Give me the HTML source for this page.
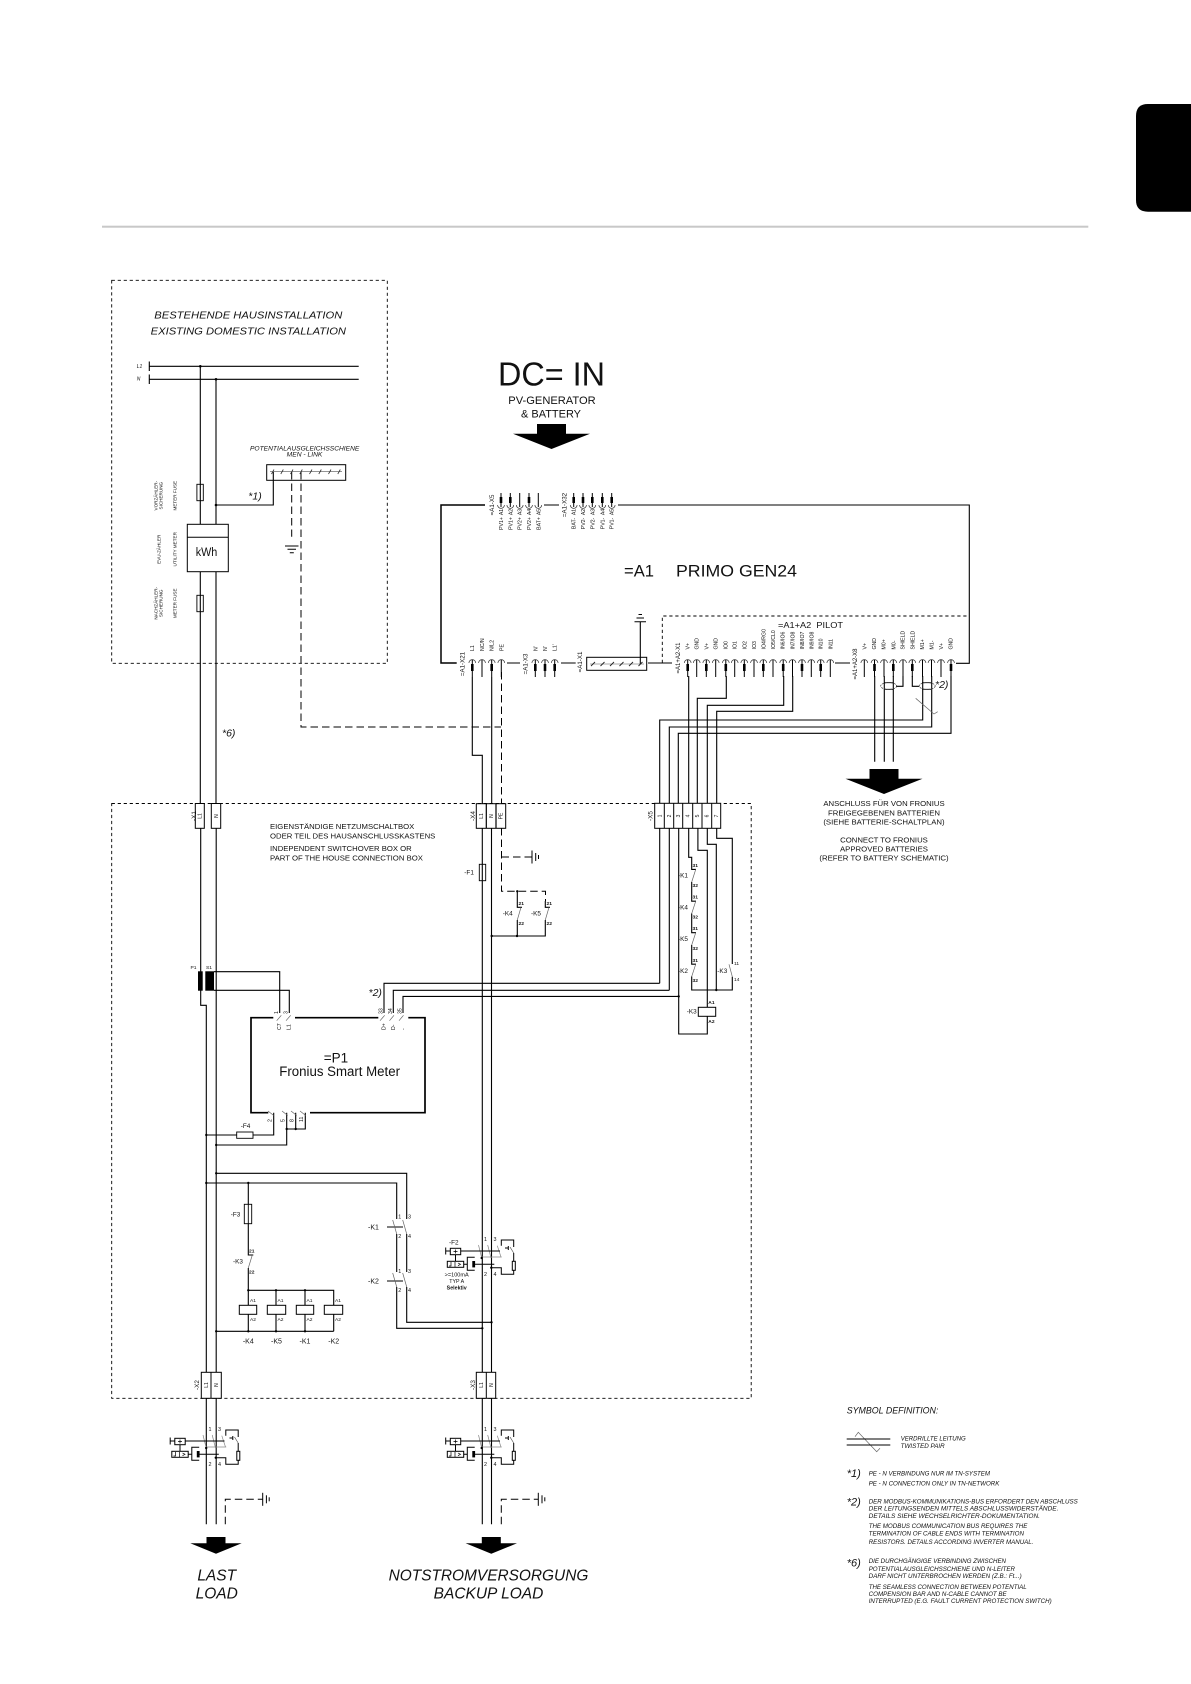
<!DOCTYPE html>
<html><head><meta charset="utf-8"><title>PRIMO GEN24 schematic</title>
<style>
html,body{margin:0;padding:0;background:#fff}
svg{display:block}
text{font-family:"Liberation Sans",sans-serif;fill:#111}
.i{font-style:italic}
</style></head><body>
<svg width="1191" height="1684" viewBox="0 0 1191 1684" xmlns="http://www.w3.org/2000/svg">
<defs>
<g id="pb"><path d="M-3.4 0A3.4 3.4 0 0 1 3.4 0" fill="none" stroke="#333" stroke-width=".7"/><path d="M0-3V14" stroke="#000" stroke-width="1"/></g>
<g id="pbt"><path d="M-3.4 0A3.4 3.4 0 0 1 3.4 0" fill="none" stroke="#333" stroke-width=".7"/><path d="M0-3V14" stroke="#000" stroke-width="1"/><path d="M0 1V8" stroke="#000" stroke-width="2.6"/></g>
<g id="pt"><path d="M-3.4 0A3.4 3.4 0 0 0 3.4 0" fill="none" stroke="#333" stroke-width=".7"/><path d="M0 2V-12" stroke="#000" stroke-width="1"/></g>
<g id="ptt"><path d="M-3.4 0A3.4 3.4 0 0 0 3.4 0" fill="none" stroke="#333" stroke-width=".7"/><path d="M0 2V-12" stroke="#000" stroke-width="1"/><path d="M0-2V-8" stroke="#000" stroke-width="2.6"/></g>
<g id="rcd" fill="none">
<path d="M478.5 1245L481.7 1258M487.7 1245L491 1258M497.3 1245.7L501 1257M481 1257H501.7" stroke="#888" stroke-width=".7"/>
<path d="M445.7 1247.5V1254.5M445.7 1251H450.3M460.7 1251H500M455.5 1254.7V1261.3M463.7 1264.3H467.3M474.7 1264.3H494.3M501.3 1245.7V1240H513.7V1247M508.3 1248H505M508.3 1246V1250M513.7 1253V1261.3M513.7 1270.3V1274.3H501.3V1267.7H491.5" stroke="#000" stroke-width="1"/>
<path d="M510 1247L513.7 1253" stroke="#555" stroke-width=".7"/>
<rect x="450.3" y="1248.3" width="10.4" height="6.4" stroke="#000" stroke-width="1"/>
<path d="M455.5 1249.5V1253.5M453.5 1251.5H457.5" stroke="#000" stroke-width=".7"/>
<rect x="447.3" y="1261.3" width="16.4" height="6" stroke="#000" stroke-width="1"/>
<path d="M451 1262V1266H449M455 1262V1267M458 1263L460.5 1264.3L458 1265.7" stroke="#000" stroke-width=".7"/>
<path d="M474.7 1257.3H467.3V1270.3H474.7" stroke="#000" stroke-width="1"/>
<rect x="472.3" y="1261" width="2.8" height="6.4" fill="#000"/>
<rect x="512.3" y="1261.3" width="3" height="9" stroke="#000" stroke-width="1" fill="#fff"/>
<circle cx="481.7" cy="1258" r="1.2" fill="#000"/><circle cx="491.3" cy="1267.7" r="1.2" fill="#000"/>
</g>
<path id="arrow" d="M-14.5 0H14.5V9.7H38.5L0 25L-38.5 9.7H-14.5Z" fill="#000"/>
<path id="arrow2" d="M-9.5 0H9.5V6.3H25.7L0 16.7L-25.7 6.3H-9.5Z" fill="#000"/>
<g id="gnd" stroke="#000" stroke-width="1"><path d="M0-6.5V6.5"/><path d="M3.7-4V4"/><path d="M6.5-2V2"/></g>
</defs>

<!-- page furniture -->
<rect x="102" y="225.7" width="986.3" height="2" fill="#c8c8c8"/>
<path d="M1191 104H1148Q1136 104 1136 116V200Q1136 211.7 1148 211.7H1191Z" fill="#000"/>

<!-- dashed areas -->
<g fill="none" stroke="#000" stroke-width=".9" stroke-dasharray="3.2 2.8">
<rect x="111.7" y="280.3" width="275.6" height="383"/>
<rect x="111.7" y="803.5" width="639.5" height="594.8"/>
<path d="M662.3 663V616H969.3"/>
</g>

<!-- wires -->
<g fill="none" stroke="#000" stroke-width="1.1">
<path d="M149.3 366.3H358.7M149.3 379.3H358.7"/>
<path d="M149.3 361.5V371M149.3 374.5V384"/>
<path d="M200.3 366V524.3M200.3 571.7V803.5M216 379V524.3M216 571.7V803.5"/>
<path d="M216 505H273.3V472"/>
<path d="M200.7 828V1005.3H206.3V1372.5M206.3 1398V1524.3M216.2 828V1372.5M216.2 1398V1524.3"/>
<path d="M472.3 677V755.3H482.3V803.5M491.7 677V803.5M482.3 828V1372.5M482.3 1398V1524.3M491.5 828V1372.5M491.5 1398V1524.3"/>
<path d="M214 971.7H279.7V1013M214 990.3H289.3V1013"/>
<path d="M384 1013V983.3H659.7M393.3 1013V990.3H669.3M403 1013V996.4H678.7"/>
<path d="M659.7 828V983.3M669.3 828V990.3M678.7 828V1034H707.3V1016.3"/>
<path d="M688.7 676V803.5M726.3 676V698.3H697.3V803.5M783.7 676V705.3H707.3V803.5M792.7 676V711.3H716.7V803.5"/>
<path d="M922.7 676V720H659.7V803.5M931.7 676V727H669.3V803.5M951 676V733.3H678.3V803.5"/>
<path d="M874.7 676V761.7M884.3 676V761.7M893.3 676V761.7"/>
<path d="M903 676V686.3H896M912.3 676V686.3H919.3"/>
<path d="M688.7 828V857.3H691.7V869.4H696M691.7 882V901.2H696M691.7 913.5V932.7H696M691.7 945V964.2H696M691.7 976.5V990H732.3V976.7M697.9 828V850.3H707.3V1007.3M707.3 828V844.3H716.3V990M716.7 828V838.3H732.3V964"/>
<path d="M517.3 891.3V907.3H522M545.3 901V907.3H550M517.3 920V936M545.3 920V936H491.7"/>
<path d="M273.7 1112.7V1135H206.3M286.7 1112.7V1145H216.2M295.7 1112.7V1129M305.3 1112.7V1129H286.7"/>
<path d="M216.2 1173.3H406.7V1219M406.7 1234V1272M406.7 1287V1322.3H491.5M206.3 1183H396.7V1219M396.7 1234V1272M396.7 1287V1328.3H482.3"/>
<path d="M387 1227H403M387 1281H403"/>
<path d="M248.3 1183V1255H253.3M248.3 1268V1305.3M248.3 1314.3V1331.3M276 1290.3V1305.3M276 1314.3V1331.3M305 1290.3V1305.3M305 1314.3V1331.3M333.7 1314.3V1331.3M248.3 1290.3H333.7V1305.3M216.2 1331.3H333.7"/>
<path d="M640.3 664V621.7"/>
</g>
<!-- thin contact diagonals -->
<g fill="none" stroke="#666" stroke-width=".7">
<path d="M695.7 869.5L691.7 882M695.7 901.3L691.7 913.5M695.7 932.8L691.7 945M695.7 964.3L691.7 976.5M729 964.3L732.3 976.7"/>
<path d="M521 907.3L517.3 920M549 907.3L545.3 920M252.3 1255L248.3 1268"/>
<path d="M392.7 1220L396.7 1234M402.7 1220L406.7 1234M392.7 1273L396.7 1287M402.7 1273L406.7 1287"/>
<path d="M276.7 1020.7L281.3 1015.3M286 1020.7L290.7 1015.3M380 1020.7L384.7 1015.3M389.5 1020.7L394 1015.3M399 1020.7L403.5 1015.3"/>
<path d="M268 1111L273.7 1115.5M282 1111L287.7 1115.5M291 1111L296.7 1115.5M300 1111L305.7 1115.5"/>
<path d="M915.7 698.3L934 714L937.7 711.7"/>
<path d="M855 1436.7L858.3 1432.3L876.7 1451.7L880 1448.3"/>
</g>
<!-- dashed wires -->
<g fill="none" stroke="#000" stroke-width="1" stroke-dasharray="7.5 4">
<path d="M291.7 472V536.7"/>
<path d="M301 472V727H501"/>
<path d="M501.5 672V803.5"/>
<path d="M501.5 828V891.3H545.5V901"/>
<path d="M501.5 857H532"/>
<path d="M225.3 1524.3V1499.3H262.7"/>
<path d="M501.3 1524.3V1499.3H538.3"/>
</g>
<!-- ground symbols -->
<g stroke="#000" stroke-width="1">
<path d="M285 546H298.5M287.5 549.3H296M289.8 552.7H293.8"/>
<path d="M634.5 621.7H646M636.5 618H644M638.5 614.5H642"/>
</g>
<use href="#gnd" x="532" y="857"/>
<use href="#gnd" x="262.7" y="1499.3"/>
<use href="#gnd" x="538.3" y="1499.3"/>

<!-- main boxes -->
<g fill="none" stroke="#000">
<path d="M485 505H441V663H456.7" stroke-width="1.5"/>
<path d="M544 505H559M618 505H969.3V663.3H956" stroke-width="1.1"/>
<path d="M507 663H520M561 663H575.7M648 663H672M835 663H850" stroke-width="1.1"/>
<path d="M273.3 1017.7H251V1112.7H268.3M310 1112.7H425V1017.7H408.3M378.3 1017.7H295" stroke-width="1.7"/>
<rect x="266.7" y="464.7" width="79" height="15.6" stroke-width="1"/>
<rect x="586.7" y="657.3" width="60" height="13" stroke-width="1"/>
</g>
<path d="M270 471.7H342" stroke="#555" stroke-width=".6"/>
<path d="M271.5 474L274 469.5M280.8 474L283.3 469.5M290.5 474L293 469.5M299.8 474L302.3 469.5M309.5 474L312 469.5M318.8 474L321.3 469.5M328.5 474L331 469.5M337.8 474L340.3 469.5" stroke="#333" stroke-width=".8"/>
<path d="M590 664H644" stroke="#555" stroke-width=".6"/>
<path d="M591 666L595 662M600.5 666L604.5 662M610 666L614 662M619.5 666L623.5 662M629 666L633 662M638.5 666L642.5 662" stroke="#222" stroke-width=".9"/>

<!-- kWh & fuses -->
<g fill="#fff" stroke="#000" stroke-width="1">
<rect x="187.3" y="524.3" width="41" height="47.4"/>
</g>
<path d="M187.3 537.3H228.3" stroke="#000"/>
<g fill="none" stroke="#000" stroke-width=".9">
<rect x="196.9" y="484.3" width="6.4" height="16.4"/>
<rect x="196.9" y="595.3" width="6.4" height="16.4"/>
<rect x="479.3" y="864.3" width="6.4" height="16.4"/>
<rect x="236.7" y="1132" width="16.3" height="6.3" fill="#fff"/>
<rect x="244.3" y="1204.3" width="7.4" height="19.4" fill="#fff"/>
</g>
<path d="M248.3 1204V1224" stroke="#000" stroke-width=".9"/>

<!-- coils -->
<g fill="#fff" stroke="#000" stroke-width="1">
<rect x="698.3" y="1007.3" width="17.4" height="9"/>
<rect x="239.3" y="1305.3" width="17.4" height="9"/>
<rect x="267.3" y="1305.3" width="18.4" height="9"/>
<rect x="296.3" y="1305.3" width="17.4" height="9"/>
<rect x="324.3" y="1305.3" width="18.4" height="9"/>
</g>

<!-- shield ovals -->
<g fill="#fff" stroke="#000" stroke-width=".8">
<path d="M884 682.7H893M884 689.3H893"/>
<path d="M922 682.7H931M922 689.3H931"/>
</g>
<g fill="none" stroke="#333" stroke-width=".7">
<ellipse cx="888.7" cy="686" rx="8" ry="3.4" stroke-dasharray="2 1"/>
<ellipse cx="927.2" cy="686" rx="8" ry="3.4" stroke-dasharray="2 1"/>
</g>

<!-- CT blocks -->
<rect x="198" y="971.3" width="4.7" height="19.4" fill="#000"/>
<rect x="205.3" y="971.3" width="8.7" height="19.4" fill="#000"/>

<!-- terminals -->
<g fill="#fff" stroke="#000" stroke-width="1">
<rect x="195.3" y="803.5" width="9" height="24.8"/>
<rect x="211.3" y="803.5" width="9.4" height="24.8"/>
<rect x="476.3" y="803.7" width="29.4" height="24.6"/>
<rect x="654.7" y="803.3" width="66" height="25"/>
<rect x="201.3" y="1372.3" width="20" height="26"/>
<rect x="476.3" y="1372.3" width="19.4" height="26"/>
</g>
<g stroke="#000" fill="none">
<path d="M486.3 803.7V828.3M496 803.7V828.3" stroke-width="1.2"/>
<path d="M664.3 803.3V828.3M673.7 803.3V828.3M682.7 803.3V828.3M692.7 803.3V828.3M702 803.3V828.3M711.7 803.3V828.3M211 1372.3V1398.3M486.3 1372.3V1398.3"/>
</g>

<!-- RCD symbols -->
<use href="#rcd"/>
<use href="#rcd" y="190"/>
<use href="#rcd" x="-275.5" y="190"/>

<!-- pins top -->
<use href="#ptt" x="501" y="505"/><use href="#ptt" x="510.3" y="505"/><use href="#pt" x="519.7" y="505"/><use href="#ptt" x="529" y="505"/><use href="#pt" x="538.3" y="505"/>
<use href="#ptt" x="573.7" y="505"/><use href="#ptt" x="583" y="505"/><use href="#ptt" x="592.3" y="505"/><use href="#ptt" x="602.3" y="505"/><use href="#ptt" x="611.7" y="505"/>
<!-- pins bottom -->
<use href="#pbt" x="472.3" y="663"/><use href="#pb" x="482" y="663"/><use href="#pbt" x="491.7" y="663"/><use href="#pb" x="501.3" y="663"/>
<use href="#pbt" x="535.3" y="663"/><use href="#pbt" x="545" y="663"/><use href="#pbt" x="554.7" y="663"/>
<use href="#pbt" x="687.7" y="663"/><use href="#pb" x="696.7" y="663"/><use href="#pbt" x="706.3" y="663"/><use href="#pb" x="715.7" y="663"/><use href="#pbt" x="725.8" y="663"/><use href="#pb" x="734.7" y="663"/><use href="#pbt" x="744.3" y="663"/><use href="#pb" x="754" y="663"/><use href="#pbt" x="763.3" y="663"/><use href="#pb" x="773" y="663"/><use href="#pbt" x="783.2" y="663"/><use href="#pb" x="792.5" y="663"/><use href="#pbt" x="802" y="663"/><use href="#pb" x="811.3" y="663"/><use href="#pbt" x="820.7" y="663"/><use href="#pb" x="830.3" y="663"/>
<use href="#pb" x="864.3" y="663"/><use href="#pbt" x="874.5" y="663"/><use href="#pb" x="884" y="663"/><use href="#pbt" x="893.3" y="663"/><use href="#pb" x="903" y="663"/><use href="#pbt" x="912.3" y="663"/><use href="#pb" x="922.5" y="663"/><use href="#pb" x="931.5" y="663"/><use href="#pb" x="941" y="663"/><use href="#pbt" x="951" y="663"/>

<!-- arrows -->
<use href="#arrow" x="551.5" y="424"/>
<use href="#arrow" x="884" y="769"/>
<use href="#arrow2" x="216" y="1537"/>
<use href="#arrow2" x="491.3" y="1537"/>

<!-- dots -->
<g fill="#000">
<circle cx="200.3" cy="366.3" r="1.3"/><circle cx="216" cy="379.3" r="1.3"/><circle cx="216" cy="505" r="1.3"/>
<circle cx="678.7" cy="996.4" r="1.2"/><circle cx="716.3" cy="990" r="1.2"/>
<circle cx="517.3" cy="891.3" r="1.2"/><circle cx="517" cy="936" r="1.2"/><circle cx="491.7" cy="936" r="1.2"/>
<circle cx="206.3" cy="1135" r="1.2"/><circle cx="216.2" cy="1145" r="1.2"/><circle cx="286.7" cy="1129" r="1.2"/><circle cx="295.7" cy="1129" r="1.2"/>
<circle cx="216.2" cy="1173.3" r="1.2"/><circle cx="206.3" cy="1183" r="1.2"/><circle cx="248.3" cy="1183" r="1.2"/>
<circle cx="248.3" cy="1290.3" r="1.2"/><circle cx="276" cy="1290.3" r="1.2"/><circle cx="305" cy="1290.3" r="1.2"/>
<circle cx="216.2" cy="1331.3" r="1.2"/><circle cx="248.3" cy="1331.3" r="1.2"/><circle cx="276" cy="1331.3" r="1.2"/><circle cx="305" cy="1331.3" r="1.2"/>
<circle cx="491.5" cy="1322.3" r="1.2"/><circle cx="482.3" cy="1328.3" r="1.2"/>
</g>

<!-- horizontal texts -->
<g lengthAdjust="spacingAndGlyphs">
<text x="498" y="385.7" font-size="33.5" textLength="107" lengthAdjust="spacingAndGlyphs">DC= IN</text>
<text x="508.3" y="404" font-size="11.2" textLength="87.4" lengthAdjust="spacingAndGlyphs">PV-GENERATOR</text>
<text x="521" y="417.3" font-size="11.2" textLength="60" lengthAdjust="spacingAndGlyphs">&amp; BATTERY</text>
<text x="624" y="576.7" font-size="17" textLength="30" lengthAdjust="spacingAndGlyphs">=A1</text>
<text x="676" y="576.7" font-size="17" textLength="121" lengthAdjust="spacingAndGlyphs">PRIMO GEN24</text>
<text x="778" y="628" font-size="8.5" textLength="65" lengthAdjust="spacingAndGlyphs" xml:space="preserve">=A1+A2  PILOT</text>

<text class="i" x="154.3" y="318.6" font-size="10.2" textLength="188" lengthAdjust="spacingAndGlyphs">BESTEHENDE HAUSINSTALLATION</text>
<text class="i" x="150.7" y="334.3" font-size="10.2" textLength="195.3" lengthAdjust="spacingAndGlyphs">EXISTING DOMESTIC INSTALLATION</text>
<text class="i" x="250" y="450.5" font-size="6.3" textLength="109.3" lengthAdjust="spacingAndGlyphs">POTENTIALAUSGLEICHSSCHIENE</text>
<text class="i" x="286.7" y="456.6" font-size="6.3" textLength="35.7" lengthAdjust="spacingAndGlyphs">MEN - LINK</text>
<text class="i" x="136.7" y="368" font-size="5">L1</text>
<text class="i" x="136.7" y="380.5" font-size="5">N</text>
<text class="i" x="248.3" y="499.5" font-size="10.5">*1)</text>
<text class="i" x="222" y="736.5" font-size="10.5">*6)</text>
<text x="195.7" y="556" font-size="11.5" textLength="21.6" lengthAdjust="spacingAndGlyphs">kWh</text>
<text class="i" x="935" y="688" font-size="10.5">*2)</text>
<text class="i" x="368.5" y="996" font-size="10.5">*2)</text>

<text x="270" y="829" font-size="7.6" textLength="144.3" lengthAdjust="spacingAndGlyphs">EIGENSTÄNDIGE NETZUMSCHALTBOX</text>
<text x="270" y="838.4" font-size="7.6" textLength="165.3" lengthAdjust="spacingAndGlyphs">ODER TEIL DES HAUSANSCHLUSSKASTENS</text>
<text x="270" y="851" font-size="7.6" textLength="141.7" lengthAdjust="spacingAndGlyphs">INDEPENDENT SWITCHOVER BOX OR</text>
<text x="270" y="860.4" font-size="7.6" textLength="153" lengthAdjust="spacingAndGlyphs">PART OF THE HOUSE CONNECTION BOX</text>

<g text-anchor="middle" font-size="7.6">
<text x="884" y="806" textLength="121.3" lengthAdjust="spacingAndGlyphs">ANSCHLUSS FÜR VON FRONIUS</text>
<text x="884" y="815.4" textLength="112" lengthAdjust="spacingAndGlyphs">FREIGEGEBENEN BATTERIEN</text>
<text x="884" y="824.7" textLength="121.3" lengthAdjust="spacingAndGlyphs">(SIEHE BATTERIE-SCHALTPLAN)</text>
<text x="884" y="842.7" textLength="87.7" lengthAdjust="spacingAndGlyphs">CONNECT TO FRONIUS</text>
<text x="884" y="851.7" textLength="88" lengthAdjust="spacingAndGlyphs">APPROVED BATTERIES</text>
<text x="884" y="860.7" textLength="129.3" lengthAdjust="spacingAndGlyphs">(REFER TO BATTERY SCHEMATIC)</text>
</g>

<text x="336" y="1062.7" font-size="13.5" text-anchor="middle">=P1</text>
<text x="279.3" y="1076" font-size="13.5" textLength="120.7" lengthAdjust="spacingAndGlyphs">Fronius Smart Meter</text>

<!-- small device labels -->
<g font-size="6.4">
<text x="464.3" y="874.3">-F1</text>
<text x="240.7" y="1128">-F4</text>
<text x="230.7" y="1216.5">-F3</text>
<text x="233" y="1263.6">-K3</text>
<text x="678" y="877.3">-K1</text><text x="678" y="909.3">-K4</text><text x="678" y="941">-K5</text><text x="678" y="973">-K2</text>
<text x="717.3" y="973">-K3</text>
<text x="686.7" y="1013.3">-K3</text>
<text x="502.7" y="915.6">-K4</text><text x="531" y="915.6">-K5</text>
<text x="368" y="1229.5" font-size="7">-K1</text>
<text x="368" y="1283.5" font-size="7">-K2</text>
<g text-anchor="middle" font-size="7"><text x="248.3" y="1343.3">-K4</text><text x="276.5" y="1343.3">-K5</text><text x="305" y="1343.3">-K1</text><text x="333.7" y="1343.3">-K2</text></g>
<text x="449" y="1244.5" font-size="6.4">-F2</text>
</g>
<g font-size="4.9" font-weight="bold">
<text x="692.5" y="867">31</text><text x="692.5" y="887">32</text><text x="692.5" y="898.7">31</text><text x="692.5" y="918.7">32</text><text x="692.5" y="930">31</text><text x="692.5" y="950">32</text><text x="692.5" y="962">31</text><text x="692.5" y="982">32</text>
<text x="518.5" y="905" >21</text><text x="518.5" y="925">22</text><text x="546.5" y="905">21</text><text x="546.5" y="925">22</text>
<text x="708.3" y="1004">A1</text><text x="708.3" y="1023">A2</text>
<text x="249" y="1252.7">21</text><text x="249" y="1273.7">22</text>
</g>
<g font-size="4.9">
<text x="734" y="964.8">11</text><text x="734" y="981">14</text>
<text x="250" y="1302">A1</text><text x="250" y="1321">A2</text><text x="277.5" y="1302">A1</text><text x="277.5" y="1321">A2</text><text x="306.5" y="1302">A1</text><text x="306.5" y="1321">A2</text><text x="335" y="1302">A1</text><text x="335" y="1321">A2</text>
<text x="190.5" y="969">P1</text><text x="206" y="969">S1</text>
</g>
<g font-size="5.4">
<text x="398.3" y="1218.7">1</text><text x="408" y="1218.7">3</text><text x="398.3" y="1238">2</text><text x="408" y="1238">4</text>
<text x="398.3" y="1273">1</text><text x="408" y="1273">3</text><text x="398.3" y="1292">2</text><text x="408" y="1292">4</text>
<text x="484" y="1241">1</text><text x="493.5" y="1241">3</text><text x="484" y="1276">2</text><text x="493.5" y="1276">4</text>
<text x="484" y="1431">1</text><text x="493.5" y="1431">3</text><text x="484" y="1466">2</text><text x="493.5" y="1466">4</text>
<text x="208.5" y="1431">1</text><text x="218" y="1431">3</text><text x="208.5" y="1466">2</text><text x="218" y="1466">4</text>
</g>
<g font-size="5.3" text-anchor="middle">
<text x="456.7" y="1276.3" textLength="24" lengthAdjust="spacingAndGlyphs">&gt;=100mA</text>
<text x="456.7" y="1283">TYP A</text>
<text x="456.7" y="1289.3" font-weight="bold">Selektiv</text>
</g>

<!-- bottom labels -->
<g text-anchor="middle" font-size="15.5" class="i">
<text class="i" x="216.7" y="1580.5" font-size="15.5">LAST</text>
<text class="i" x="216.7" y="1598.7" font-size="15.5">LOAD</text>
<text class="i" x="488.5" y="1580.5" font-size="15.5" textLength="199.7" lengthAdjust="spacingAndGlyphs">NOTSTROMVERSORGUNG</text>
<text class="i" x="488.5" y="1598.7" font-size="15.5">BACKUP LOAD</text>
</g>

<!-- legend -->
<text class="i" x="846.7" y="1413.3" font-size="9.4" textLength="91.7" lengthAdjust="spacingAndGlyphs">SYMBOL DEFINITION:</text>
<path d="M846.7 1439H890.3M846.7 1445H890.3" stroke="#000" stroke-width="1" fill="none"/>
<text class="i" x="900.7" y="1440.5" font-size="6.2" textLength="65" lengthAdjust="spacingAndGlyphs">VERDRILLTE LEITUNG</text>
<text class="i" x="900.7" y="1448.2" font-size="6.2" textLength="44" lengthAdjust="spacingAndGlyphs">TWISTED PAIR</text>
<text class="i" x="846.7" y="1477" font-size="11">*1)</text>
<text class="i" x="846.7" y="1505.5" font-size="11">*2)</text>
<text class="i" x="846.7" y="1566.5" font-size="11">*6)</text>
<g class="i" font-size="6.2" font-style="italic">
<text class="i" x="868.7" y="1475.5" textLength="121.3" lengthAdjust="spacingAndGlyphs">PE - N VERBINDUNG NUR IM TN-SYSTEM</text>
<text class="i" x="868.7" y="1485.5" textLength="130.7" lengthAdjust="spacingAndGlyphs">PE - N CONNECTION ONLY IN TN-NETWORK</text>
<text class="i" x="868.7" y="1503.5" textLength="209" lengthAdjust="spacingAndGlyphs">DER MODBUS-KOMMUNIKATIONS-BUS ERFORDERT DEN ABSCHLUSS</text>
<text class="i" x="868.7" y="1510.5" textLength="189.7" lengthAdjust="spacingAndGlyphs">DER LEITUNGSENDEN MITTELS ABSCHLUSSWIDERSTÄNDE.</text>
<text class="i" x="868.7" y="1518" textLength="171.3" lengthAdjust="spacingAndGlyphs">DETAILS SIEHE WECHSELRICHTER-DOKUMENTATION.</text>
<text class="i" x="868.7" y="1528.2" textLength="158.7" lengthAdjust="spacingAndGlyphs">THE MODBUS COMMUNICATION BUS REQUIRES THE</text>
<text class="i" x="868.7" y="1535.5" textLength="155.3" lengthAdjust="spacingAndGlyphs">TERMINATION OF CABLE ENDS WITH TERMINATION</text>
<text class="i" x="868.7" y="1543.8" textLength="164.7" lengthAdjust="spacingAndGlyphs">RESISTORS. DETAILS ACCORDING INVERTER MANUAL.</text>
<text class="i" x="868.7" y="1562.8" textLength="137.3" lengthAdjust="spacingAndGlyphs">DIE DURCHGÄNGIGE VERBINDING ZWISCHEN</text>
<text class="i" x="868.7" y="1570.8" textLength="146.3" lengthAdjust="spacingAndGlyphs">POTENTIALAUSGLEICHSSCHIENE UND N-LEITER</text>
<text class="i" x="868.7" y="1578.2" textLength="153" lengthAdjust="spacingAndGlyphs">DARF NICHT UNTERBROCHEN WERDEN (Z.B.: Ft...)</text>
<text class="i" x="868.7" y="1588.8" textLength="158" lengthAdjust="spacingAndGlyphs">THE SEAMLESS CONNECTION BETWEEN POTENTIAL</text>
<text class="i" x="868.7" y="1595.8" textLength="138" lengthAdjust="spacingAndGlyphs">COMPENSION  BAR AND N-CABLE CANNOT BE</text>
<text class="i" x="868.7" y="1603.2" textLength="183" lengthAdjust="spacingAndGlyphs">INTERRUPTED (E.G. FAULT CURRENT PROTECTION SWITCH)</text>
</g>
</g>

<!-- rotated texts: x = -Y, y = X -->
<g transform="rotate(-90)" font-size="5.2">
<!-- top pins -->
<g text-anchor="middle">
<text x="-505" y="494" font-size="6.2">=A1-X5</text>
<text x="-505" y="566.5" font-size="6.2">=A1-X32</text>
<text x="-512" y="503">A1</text><text x="-512" y="512.3">A2</text><text x="-512" y="521.7">A3</text><text x="-512" y="531">A4</text><text x="-512" y="540.3">A5</text>
<text x="-523.5" y="503">PV1+</text><text x="-523.5" y="512.3">PV1+</text><text x="-523.5" y="521.7">PV2+</text><text x="-523.5" y="531">PV2+</text><text x="-523.5" y="540.3">BAT+</text>
<text x="-512" y="575.7">A1</text><text x="-512" y="585">A2</text><text x="-512" y="594.3">A3</text><text x="-512" y="604.3">A4</text><text x="-512" y="613.7">A5</text>
<text x="-523.5" y="575.7">BAT-</text><text x="-523.5" y="585">PV2-</text><text x="-523.5" y="594.3">PV2-</text><text x="-523.5" y="604.3">PV1-</text><text x="-523.5" y="613.7">PV1-</text>
<text x="-664" y="464.5" font-size="6.2">=A1-X21</text>
<text x="-664" y="527.7" font-size="6.2">=A1-X3</text>
<text x="-662" y="582" font-size="6.2">=A1-X1</text>
<text x="-658" y="680" font-size="6">=A1+A2-X1</text>
<text x="-664" y="857" font-size="6">=A1+A2-X8</text>
<text x="-816" y="196" font-size="6.4">-X1</text>
<text x="-816" y="475" font-size="6.4">-X4</text>
<text x="-816" y="652.5" font-size="6.4">-X5</text>
<text x="-1385" y="199" font-size="6.4">-X2</text>
<text x="-1385" y="475" font-size="6.4">-X3</text>
<g font-size="5">
<text x="-816" y="201.5">L1</text><text x="-816" y="217.8">N</text>
<text x="-816" y="483">L1</text><text x="-816" y="493">N</text><text x="-816" y="502.5">PE</text>
<text x="-816" y="661.5">1</text><text x="-816" y="671">2</text><text x="-816" y="680">3</text><text x="-816" y="689.5">4</text><text x="-816" y="699">5</text><text x="-816" y="708.5">6</text><text x="-816" y="718">7</text>
<text x="-1385" y="208">L1</text><text x="-1385" y="218">N</text>
<text x="-1385" y="483">L1</text><text x="-1385" y="493">N</text>
</g>
<g font-size="4.6">
<text x="-495.7" y="157.5">VORZÄHLER-</text><text x="-495.7" y="162.5">SICHERUNG</text>
<text x="-495.7" y="176.5">METER FUSE</text>
<text x="-549.3" y="160.5">EVU-ZÄHLER</text><text x="-549.3" y="176.5">UTILITY METER</text>
<text x="-603.3" y="157.5">NACHZÄHLER-</text><text x="-603.3" y="162.5">SICHERUNG</text>
<text x="-603.3" y="176.5">METER FUSE</text>
</g>
</g>
<!-- bottom anchored pin labels -->
<text x="-651" y="474">L1</text><text x="-651" y="484">NC/N</text><text x="-651" y="493.7">N/L2</text><text x="-651" y="503.3">PE</text>
<text x="-651" y="537.3">N'</text><text x="-651" y="547">N'</text><text x="-651" y="556.7">L1'</text>
<text x="-649.5" y="689.7">V+</text><text x="-649.5" y="698.7">GND</text><text x="-649.5" y="708.3">V+</text><text x="-649.5" y="717.7">GND</text><text x="-649.5" y="727.3">IO0</text><text x="-649.5" y="736.7">IO1</text><text x="-649.5" y="746.3">IO2</text><text x="-649.5" y="756">IO3</text><text x="-649.5" y="765.3">IO4/RG0</text><text x="-649.5" y="775">IO5/CL0</text><text x="-649.5" y="784.7">IN6/IO6</text><text x="-649.5" y="794.3">IN7/IO8</text><text x="-649.5" y="804">IN8/IO7</text><text x="-649.5" y="813.3">IN9/IO8</text><text x="-649.5" y="822.7">IN10</text><text x="-649.5" y="832.3">IN11</text>
<text x="-649.5" y="866.3">V+</text><text x="-649.5" y="876">GND</text><text x="-649.5" y="885.7">M0+</text><text x="-649.5" y="895.3">M0-</text><text x="-649.5" y="904.7">SHIELD</text><text x="-649.5" y="914.3">SHIELD</text><text x="-649.5" y="924">M1+</text><text x="-649.5" y="933.3">M1-</text><text x="-649.5" y="943">V+</text><text x="-649.5" y="952.7">GND</text>
<!-- smart meter pins -->
<text x="-1014" y="278">1</text><text x="-1014" y="287.5">3</text>
<text x="-1014" y="382.5">33</text><text x="-1014" y="392">34</text><text x="-1014" y="401.5">35</text>
<text x="-1030" y="281">C7</text><text x="-1030" y="290.5">L1</text>
<text x="-1030" y="385.5">D+</text><text x="-1030" y="395">D-</text><text x="-1030" y="404.5">-</text>
<text x="-1122" y="271.5">2</text><text x="-1122" y="284.5">5</text><text x="-1122" y="293.5">8</text><text x="-1122" y="303">11</text>
</g>
</svg>
</body></html>
